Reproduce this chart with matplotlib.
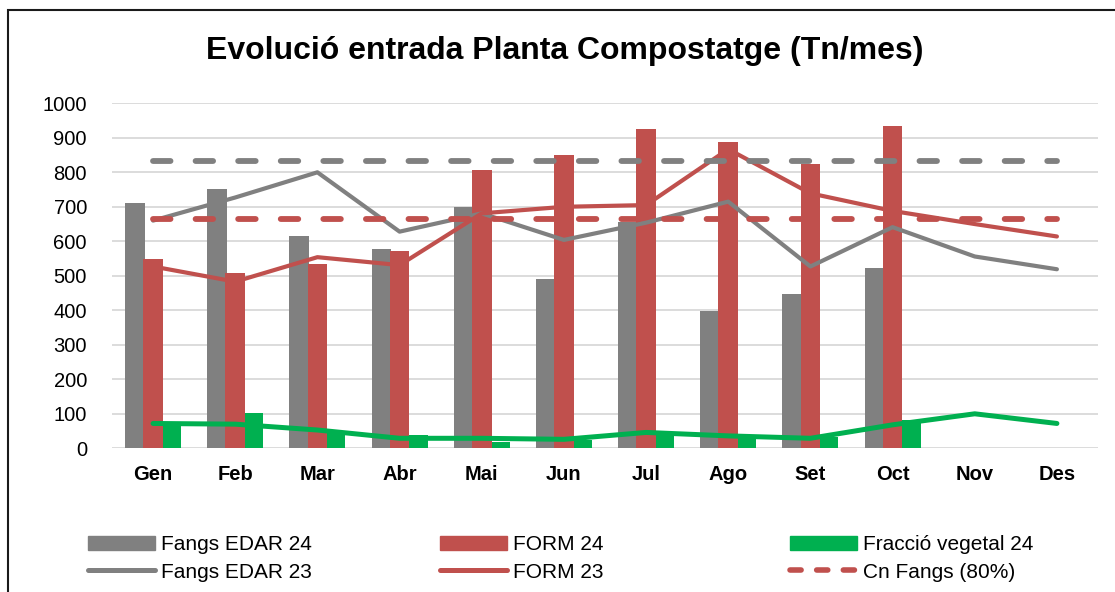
import numpy as np
import matplotlib
matplotlib.use('Agg')
import matplotlib.pyplot as plt
import matplotlib.patches as patches
from matplotlib.lines import Line2D

plt.rcParams['font.family'] = ['Liberation Sans', 'DejaVu Sans']

# Dades (Tn/mes)
mesos = ['Gen', 'Feb', 'Mar', 'Abr', 'Mai', 'Jun', 'Jul', 'Ago', 'Set', 'Oct', 'Nov', 'Des']

fangs_edar_24 = [712, 753, 615, 578, 700, 491, 657, 397, 448, 524]
form_24 = [550, 509, 535, 571, 807, 849, 925, 888, 823, 934]
fraccio_vegetal_24 = [67, 101, 51, 38, 19, 24, 48, 29, 34, 82]

fangs_edar_23 = [660, 727, 800, 628, 681, 604, 654, 715, 527, 641, 556, 519]
form_23 = [527, 483, 554, 531, 681, 700, 705, 867, 739, 688, 650, 614]
fraccio_vegetal_23 = [72, 70, 53, 29, 29, 26, 46, 36, 29, 68, 100, 72]

cn_fangs_100 = 833
cn_fangs_80 = 666

GRIS = '#808080'
VERMELL = '#c0504d'
VERD = '#00b050'

fig = plt.figure(figsize=(11.15, 5.92), dpi=100)
ax = fig.add_axes([112 / 1115, 1 - 448.3 / 592, 986 / 1115, 345 / 592])

x = np.arange(len(mesos))
n24 = len(fangs_edar_24)

# Barres 2024
ax.bar(x[:n24] - 0.22, fangs_edar_24, width=0.24, color=GRIS, zorder=2)
ax.bar(x[:n24], form_24, width=0.24, color=VERMELL, zorder=2)
ax.bar(x[:n24] + 0.23, fraccio_vegetal_24, width=0.22, color=VERD, zorder=2)

# Linies 2023
ax.plot(x, fangs_edar_23, color=GRIS, lw=3, solid_capstyle='round', zorder=3)
ax.plot(x, form_23, color=VERMELL, lw=3, solid_capstyle='round', zorder=3)
ax.plot(x, fraccio_vegetal_23, color=VERD, lw=3.6, solid_capstyle='round', zorder=3)

# Capacitat
ax.plot(x, [cn_fangs_100] * len(x), color=GRIS, lw=4.2, ls=(0, (3.0, 4.3)),
        dash_capstyle='round', zorder=3)
ax.plot(x, [cn_fangs_80] * len(x), color=VERMELL, lw=4.2, ls=(0, (3.0, 4.3)),
        dash_capstyle='round', zorder=3)

ax.set_xlim(-0.5, len(mesos) - 0.5)
ax.set_ylim(0, 1000)
ax.set_yticks(range(0, 1001, 100))
ax.set_xticks(x)
ax.set_xticklabels(mesos, fontsize=14.5, fontweight='bold')
ax.tick_params(axis='y', labelsize=14.5, length=0, pad=18)
ax.tick_params(axis='x', length=0, pad=12)
ax.grid(axis='y', color='#d9d9d9', lw=1.3, zorder=0)
ax.set_axisbelow(True)
for s in ax.spines.values():
    s.set_visible(False)

fig.text(565 / 1115, 1 - 51 / 592, 'Evolució entrada Planta Compostatge (Tn/mes)',
         ha='center', va='center', fontsize=23, fontweight='bold')

# Marc
fig.patches.append(patches.Rectangle((7.5 / 1115, -0.1), 1.2, 0.1 + (1 - 10 / 592),
                                     transform=fig.transFigure, fill=False,
                                     edgecolor='#1a1a1a', lw=1.5))

# Llegenda en tres columnes
def llegenda(handles, labels, xpos):
    fig.legend(handles, labels, loc='center left',
               bbox_to_anchor=(xpos / 1115, 1 - 558.5 / 592),
               frameon=False, fontsize=15, handlelength=3.2, handletextpad=0.3,
               labelspacing=0.4, borderpad=0, borderaxespad=0)

llegenda([patches.Patch(color=GRIS), Line2D([], [], color=GRIS, lw=3.6, solid_capstyle='round')],
         ['Fangs EDAR 24', 'Fangs EDAR 23'], 88)
llegenda([patches.Patch(color=VERMELL), Line2D([], [], color=VERMELL, lw=3.6, solid_capstyle='round')],
         ['FORM 24', 'FORM 23'], 440)
llegenda([patches.Patch(color=VERD),
          Line2D([], [], color=VERMELL, lw=4, ls=(0, (2.0, 2.8)), dash_capstyle='round')],
         ['Fracció vegetal 24', 'Cn Fangs (80%)'], 790)

fig.savefig('out.png', dpi=100)
